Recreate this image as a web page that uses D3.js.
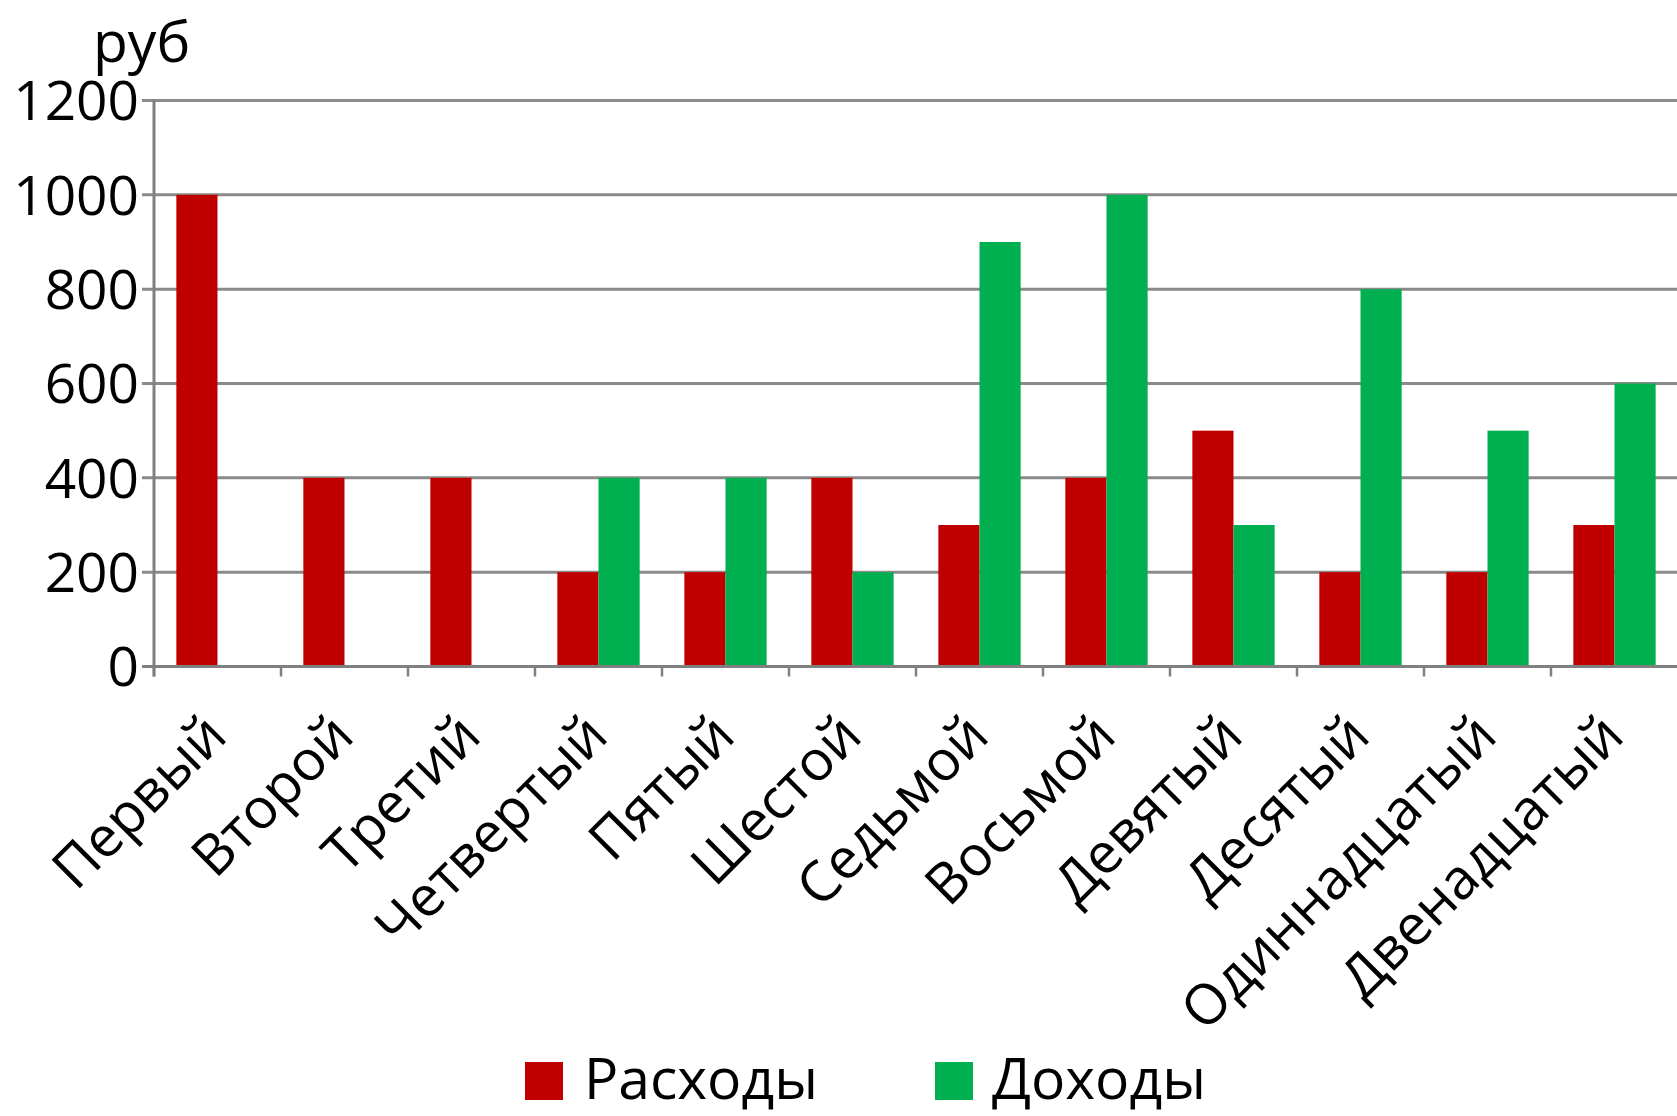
<!DOCTYPE html>
<html>
<head>
<meta charset="utf-8">
<script src="https://cdn.jsdelivr.net/npm/d3@7"></script>
<style>
  html, body { margin: 0; padding: 0; background: #ffffff; }
  svg { display: block; }
  text { font-family: "Open Sans", "DejaVu Sans", sans-serif; fill: #000; }
</style>
</head>
<body>
<svg id="chart" width="1677" height="1116"></svg>
<script>
// ---- data ----
const categories = ["Первый", "Второй", "Третий", "Четвертый", "Пятый", "Шестой",
                    "Седьмой", "Восьмой", "Девятый", "Десятый", "Одиннадцатый", "Двенадцатый"];
const seriesNames = ["Расходы", "Доходы"];
const expenses = [1000, 400, 400, 200, 200, 400, 300, 400, 500, 200, 200, 300];
const incomes  = [0, 0, 0, 400, 400, 200, 900, 1000, 300, 800, 500, 600];
const yTicks = [0, 200, 400, 600, 800, 1000, 1200];
const yUnit = "руб";
const colors = ["#C00000", "#00B050"];

// ---- layout ----
const svg = d3.select("#chart");
const plotLeft = 154, plotRight = 1678, plotTop = 100.5, plotBottom = 666.5;

const x = d3.scaleBand().domain(categories).range([plotLeft, plotRight]).padding(0);
const xInner = d3.scaleBand().domain(seriesNames)
  .range([x.bandwidth() * 0.176, x.bandwidth() * 0.824]).padding(0);
const y = d3.scaleLinear().domain([0, 1200]).range([plotBottom, plotTop]);

// gridlines
svg.append("g").selectAll("line").data(yTicks).join("line")
  .attr("x1", plotLeft - 12).attr("x2", 1677)
  .attr("y1", d => y(d)).attr("y2", d => y(d))
  .attr("stroke", "#8a8a8a").attr("stroke-width", 3);

// bars
const rows = categories.map((c, i) => ({ cat: c, values: [expenses[i], incomes[i]] }));
const groups = svg.append("g").selectAll("g").data(rows).join("g")
  .attr("transform", d => `translate(${x(d.cat)},0)`);
groups.selectAll("rect")
  .data(d => d.values.map((v, j) => ({ name: seriesNames[j], v, j })).filter(e => e.v > 0))
  .join("rect")
  .attr("x", e => xInner(e.name))
  .attr("width", xInner.bandwidth())
  .attr("y", e => y(e.v))
  .attr("height", e => y(0) - y(e.v))
  .attr("fill", e => colors[e.j]);

// y axis line
svg.append("line")
  .attr("x1", plotLeft).attr("x2", plotLeft)
  .attr("y1", plotTop).attr("y2", plotBottom + 10)
  .attr("stroke", "#808080").attr("stroke-width", 3);

// x axis line + category ticks
svg.append("line")
  .attr("x1", plotLeft - 12).attr("x2", 1677)
  .attr("y1", plotBottom).attr("y2", plotBottom)
  .attr("stroke", "#808080").attr("stroke-width", 3);
svg.append("g").selectAll("line").data(categories).join("line")
  .attr("x1", d => x(d)).attr("x2", d => x(d))
  .attr("y1", plotBottom).attr("y2", plotBottom + 10)
  .attr("stroke", "#808080").attr("stroke-width", 2.5);

// y tick labels
svg.append("g").selectAll("text").data(yTicks).join("text")
  .attr("x", 139).attr("y", d => y(d))
  .attr("dy", "0.36em")
  .attr("text-anchor", "end")
  .attr("font-size", 55)
  .text(d => d);

// unit label
svg.append("text").attr("x", 93).attr("y", 62).attr("font-size", 57).text(yUnit);

// category labels
svg.append("g").selectAll("text").data(categories).join("text")
  .attr("transform", d => `translate(${x(d) + x.bandwidth() / 2 + 12},${plotBottom + 72}) rotate(-45)`)
  .attr("text-anchor", "end")
  .attr("font-size", 56)
  .text(d => d);

// legend
const legendX = [525, 935];
const leg = svg.append("g").selectAll("g").data(seriesNames).join("g")
  .attr("transform", (d, i) => `translate(${legendX[i]},1062)`);
leg.append("rect").attr("width", 38).attr("height", 38).attr("fill", (d, i) => colors[i]);
leg.append("text").attr("x", (d, i) => i === 0 ? 59 : 57).attr("y", 37)
  .attr("font-size", 57).text(d => d);
</script>
</body>
</html>
